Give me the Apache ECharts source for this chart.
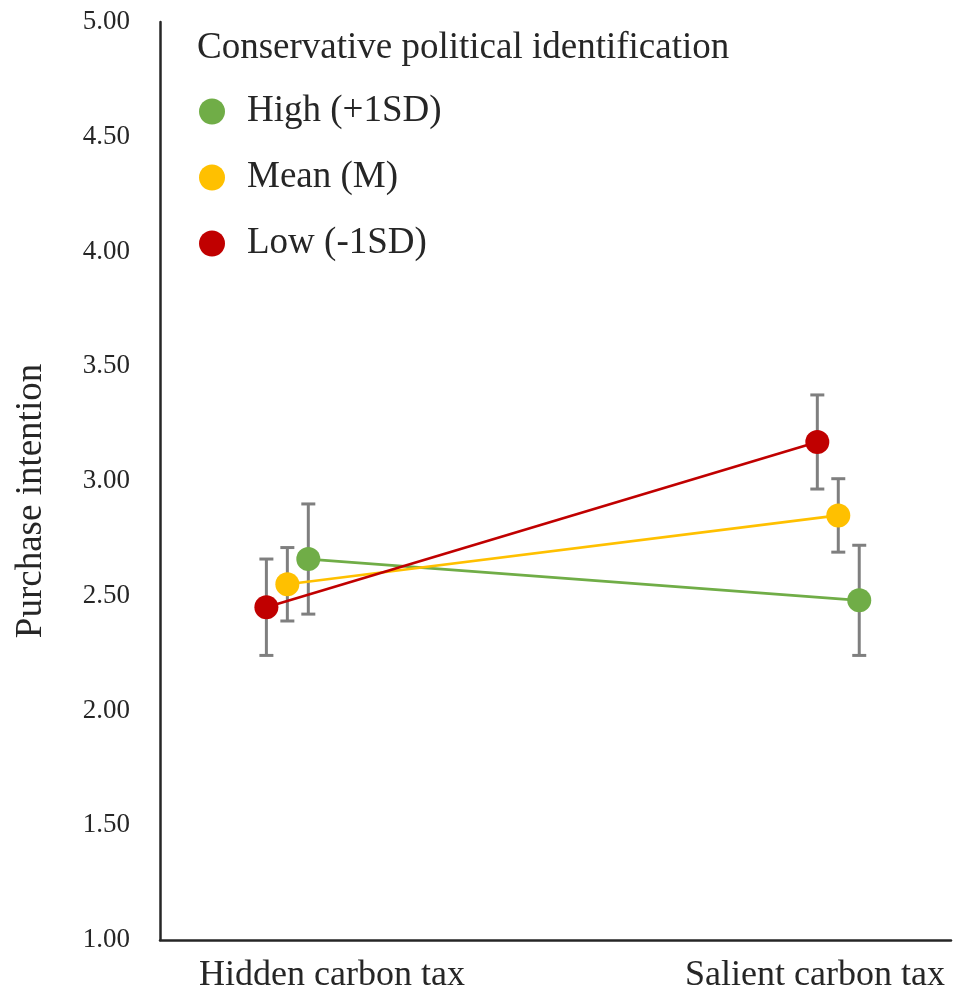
<!DOCTYPE html>
<html>
<head>
<meta charset="utf-8">
<script src="https://cdn.jsdelivr.net/npm/echarts@6/dist/echarts.min.js"></script>
<style>
  html, body { margin: 0; padding: 0; background: #fff; }
  #chart { width: 953px; height: 994px; }
</style>
</head>
<body>
<div id="chart"></div>
<script>
// Conditions (x-axis categories) and where each group sits on the 0..1 x scale
const categories = ['Hidden carbon tax', 'Salient carbon tax'];
const groupCenters = [0.161, 0.8575];
const labelCenters = [0.2175, 0.828];

// Moderator levels, drawn left to right within each group
const levels = ['High (+1SD)', 'Mean (M)', 'Low (-1SD)'];
const levelOffsets = [0.0265, 0, -0.0265];
const levelColors = ['#70AD47', '#FFC000', '#C00000'];

// Purchase intention means [hidden, salient]
const highMeans = [2.66, 2.48];
const meanMeans = [2.55, 2.85];
const lowMeans = [2.45, 3.17];

// Error bar half-widths [hidden, salient]
const highErr = [0.24, 0.24];
const meanErr = [0.16, 0.16];
const lowErr = [0.21, 0.205];

// Y-axis ticks
const yMin = 1, yMax = 5, yStep = 0.5;

const FONT = '"Liberation Serif", "Times New Roman", serif';
const TEXT = '#262626';

const means = [highMeans, meanMeans, lowMeans];
const errs = [highErr, meanErr, lowErr];

const lineSeries = levels.map((name, i) => ({
  name: name,
  type: 'line',
  z: 3,
  symbol: 'circle',
  symbolSize: 24,
  itemStyle: { color: levelColors[i] },
  lineStyle: { color: levelColors[i], width: 2.7 },
  data: categories.map((c, g) => [groupCenters[g] + levelOffsets[i], means[i][g]]),
  emphasis: { disabled: true },
  animation: false
}));

const errData = [];
levels.forEach((name, i) => {
  categories.forEach((c, g) => {
    const x = groupCenters[g] + levelOffsets[i];
    errData.push([x, means[i][g] - errs[i][g], means[i][g] + errs[i][g]]);
  });
});

const errSeries = {
  type: 'custom',
  name: 'errors',
  z: 1,
  silent: true,
  animation: false,
  data: errData,
  encode: { x: 0, y: [1, 2] },
  renderItem: function (params, api) {
    const lo = api.coord([api.value(0), api.value(1)]);
    const hi = api.coord([api.value(0), api.value(2)]);
    const cap = 7;
    const style = { stroke: '#7F7F7F', lineWidth: 3 };
    return {
      type: 'group',
      children: [
        { type: 'line', shape: { x1: lo[0], y1: lo[1], x2: hi[0], y2: hi[1] }, style: style },
        { type: 'line', shape: { x1: lo[0] - cap, y1: lo[1], x2: lo[0] + cap, y2: lo[1] }, style: style },
        { type: 'line', shape: { x1: hi[0] - cap, y1: hi[1], x2: hi[0] + cap, y2: hi[1] }, style: style }
      ]
    };
  }
};

const chart = echarts.init(document.getElementById('chart'), null, { renderer: 'canvas' });
chart.setOption({
  backgroundColor: '#fff',
  animation: false,
  title: {
    text: 'Conservative political identification',
    left: 192,
    top: 25,
    textStyle: { fontFamily: FONT, fontSize: 37, fontWeight: 'normal', color: TEXT }
  },
  legend: {
    data: levels,
    orient: 'vertical',
    left: 194,
    top: 88,
    itemWidth: 26,
    itemHeight: 26,
    itemGap: 29,
    icon: 'circle',
    selectedMode: false,
    textStyle: { fontFamily: FONT, fontSize: 37, color: TEXT, padding: [0, 0, 0, 17] }
  },
  grid: { left: 160, right: 2, top: 22, bottom: 52, containLabel: false },
  xAxis: {
    type: 'value',
    min: 0,
    max: 1,
    axisLine: { show: true, lineStyle: { color: '#262626', width: 2.5 } },
    axisTick: { show: false },
    splitLine: { show: false },
    axisLabel: {
      customValues: labelCenters,
      formatter: function (v) {
        const idx = labelCenters.findIndex(c => Math.abs(c - v) < 1e-6);
        return idx >= 0 ? categories[idx] : '';
      },
      fontFamily: FONT,
      fontSize: 36,
      color: TEXT,
      margin: 18
    }
  },
  yAxis: {
    type: 'value',
    min: yMin,
    max: yMax,
    interval: yStep,
    name: 'Purchase intention',
    nameLocation: 'middle',
    nameGap: 110,
    nameRotate: 90,
    nameTextStyle: { fontFamily: FONT, fontSize: 37, color: TEXT, padding: [0, 40, 0, 0] },
    axisLine: { show: true, lineStyle: { color: '#262626', width: 2.5 } },
    axisTick: { show: false },
    splitLine: { show: false },
    axisLabel: {
      formatter: v => v.toFixed(2),
      fontFamily: FONT,
      fontSize: 27,
      color: TEXT,
      margin: 30
    }
  },
  series: [errSeries].concat(lineSeries)
});
</script>
</body>
</html>
